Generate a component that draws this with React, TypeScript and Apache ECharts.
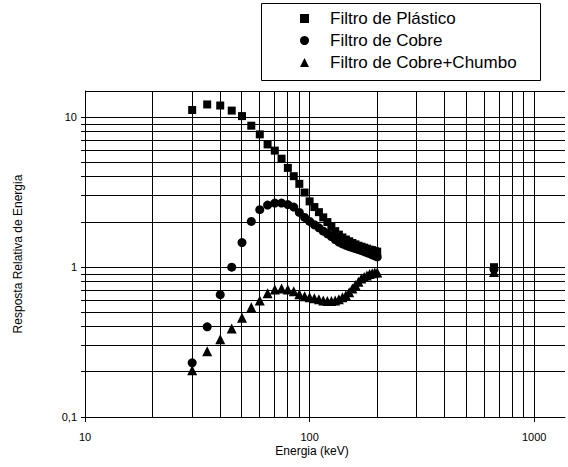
import React, { useEffect, useRef } from "react";
import * as echarts from "echarts";

const energies = [30, 35, 40, 45, 50, 55, 60, 65, 70, 75, 80, 85, 90, 95, 100, 105, 110, 115, 120, 125, 130, 135, 140, 145, 150, 155, 160, 165, 170, 175, 180, 185, 190, 195, 200, 662];
const plastico = [11.2, 12.2, 12.0, 11.1, 10.2, 8.8, 7.7, 6.6, 6.0, 5.3, 4.6, 4.05, 3.6, 3.15, 2.75, 2.52, 2.33, 2.15, 2.0, 1.86, 1.74, 1.65, 1.58, 1.53, 1.49, 1.45, 1.42, 1.39, 1.37, 1.35, 1.33, 1.31, 1.3, 1.28, 1.27, 1.0];
const cobre = [0.23, 0.4, 0.655, 1.0, 1.46, 2.02, 2.42, 2.6, 2.68, 2.68, 2.62, 2.52, 2.32, 2.15, 2.02, 1.92, 1.83, 1.74, 1.67, 1.6, 1.53, 1.47, 1.43, 1.4, 1.37, 1.35, 1.33, 1.31, 1.29, 1.27, 1.25, 1.23, 1.21, 1.19, 1.17, 0.97];
const cobreChumbo = [0.205, 0.275, 0.33, 0.39, 0.46, 0.54, 0.6, 0.67, 0.71, 0.72, 0.71, 0.69, 0.66, 0.64, 0.63, 0.62, 0.61, 0.6, 0.595, 0.595, 0.6, 0.61, 0.63, 0.65, 0.68, 0.72, 0.76, 0.8, 0.84, 0.86, 0.88, 0.9, 0.91, 0.92, 0.92, 0.93];
const seriesNames = ["Filtro de Plástico", "Filtro de Cobre", "Filtro de Cobre+Chumbo"];
const xMajor = [10, 100, 1000];
const xMinor = [20, 30, 40, 50, 60, 70, 80, 90, 200, 300, 400, 500, 600, 700, 800, 900];
const yMajor = [0.1, 1, 10];
const yMinor = [0.2, 0.3, 0.4, 0.5, 0.6, 0.7, 0.8, 0.9, 2, 3, 4, 5, 6, 7, 8, 9];
const X_MIN = 10;
const X_MAX = 1371;
const Y_MIN = 0.1;
const Y_MAX = 15;
const xTitle = "Energia (keV)";
const yTitle = "Resposta Relativa de Energia";

const FONT = '"Liberation Sans", Arial, Helvetica, sans-serif';

function logLabel(v: number): string {
  const l = Math.log10(v);
  const r = Math.round(l);
  if (Math.abs(l - r) > 1e-6) return "";
  const val = Math.pow(10, r);
  const s = r < 0 ? val.toFixed(-r) : String(val);
  return s.replace(".", ",");
}

export default function App() {
  const ref = useRef<HTMLDivElement>(null);
  useEffect(() => {
    if (!ref.current) return;
    const chart = echarts.init(ref.current, undefined, { renderer: "svg" });

    // grid line items: [x, y, kind]
    // kind 0: horizontal with outer tick, 1: vertical, 2: vertical with outer tick, 3: top frame
    const gridItems: number[][] = [];
    yMajor.forEach((v) => gridItems.push([X_MIN, v, 0]));
    yMinor.forEach((v) => gridItems.push([X_MIN, v, 0]));
    xMajor.forEach((v) => gridItems.push([v, Y_MIN, 2]));
    xMinor.forEach((v) => gridItems.push([v, Y_MIN, 1]));
    gridItems.push([X_MIN, Y_MAX, 3]);

    const crisp = (n: number) => Math.round(n - 0.5) + 0.5;

    const option: any = {
      animation: false,
      backgroundColor: "#fff",
      textStyle: { fontFamily: FONT, color: "#000" },
      grid: { left: 85, top: 91, right: 0, bottom: 50 },
      xAxis: {
        type: "log",
        logBase: 10,
        min: X_MIN,
        max: X_MAX,
        axisLine: { show: true, lineStyle: { color: "#000", width: 1 } },
        axisTick: { show: false },
        splitLine: { show: false },
        axisLabel: {
          formatter: logLabel,
          margin: 14,
          fontSize: 11,
          color: "#000",
          fontFamily: FONT,
        },
      },
      yAxis: {
        type: "log",
        logBase: 10,
        min: Y_MIN,
        max: Y_MAX,
        axisLine: { show: true, lineStyle: { color: "#000", width: 1 } },
        axisTick: { show: false },
        splitLine: { show: false },
        axisLabel: {
          formatter: logLabel,
          margin: 8,
          fontSize: 11,
          color: "#000",
          fontFamily: FONT,
        },
      },
      legend: {
        orient: "vertical",
        left: 300,
        top: 9,
        itemWidth: 9,
        itemHeight: 9,
        itemGap: 3,
        padding: 0,
        selectedMode: false,
        data: [
          { name: seriesNames[0], icon: "rect" },
          { name: seriesNames[1], icon: "circle" },
          { name: seriesNames[2], icon: "triangle" },
        ],
        itemStyle: { opacity: 1 },
        textStyle: {
          fontSize: 17,
          lineHeight: 19,
          fontFamily: FONT,
          color: "#000",
          padding: [0, 0, 0, 16],
        },
      },
      graphic: [
        {
          type: "rect",
          shape: { x: 261.5, y: 3.5, width: 279, height: 77 },
          style: { fill: "none", stroke: "#000", lineWidth: 1 },
          silent: true,
        },
        {
          type: "text",
          x: 18,
          y: 254,
          rotation: Math.PI / 2,
          style: {
            text: yTitle,
            fontSize: 12,
            fontFamily: FONT,
            fill: "#000",
            textAlign: "center",
            textVerticalAlign: "middle",
          },
        },
        {
          type: "text",
          x: 312,
          y: 451,
          style: {
            text: xTitle,
            fontSize: 12,
            fontFamily: FONT,
            fill: "#000",
            textAlign: "center",
            textVerticalAlign: "middle",
          },
        },
      ],
      series: [
        {
          type: "custom",
          name: "grid",
          silent: true,
          z: 1,
          encode: { x: 0, y: 1 },
          data: gridItems,
          renderItem: (params: any, api: any) => {
            const cs = params.coordSys;
            const kind = api.value(2);
            const p = api.coord([api.value(0), api.value(1)]);
            let shape;
            if (kind === 0 || kind === 3) {
              const y = crisp(p[1]);
              shape = { x1: cs.x - (kind === 0 ? 4 : 0), y1: y, x2: cs.x + cs.width, y2: y };
            } else {
              const x = crisp(p[0]);
              shape = { x1: x, y1: cs.y, x2: x, y2: cs.y + cs.height + (kind === 2 ? 5 : 0) };
            }
            return { type: "line", shape, style: { stroke: "#000", lineWidth: 1 } };
          },
        },
        {
          type: "scatter",
          name: seriesNames[0],
          symbol: "rect",
          symbolSize: 8,
          z: 3,
          itemStyle: { color: "#000", opacity: 1 },
          data: energies.map((e, i) => [e, plastico[i]]),
        },
        {
          type: "scatter",
          name: seriesNames[1],
          symbol: "circle",
          symbolSize: 9,
          z: 3,
          itemStyle: { color: "#000", opacity: 1 },
          data: energies.map((e, i) => [e, cobre[i]]),
        },
        {
          type: "scatter",
          name: seriesNames[2],
          symbol: "triangle",
          symbolSize: 10,
          z: 3,
          itemStyle: { color: "#000", opacity: 1 },
          data: energies.map((e, i) => [e, cobreChumbo[i]]),
        },
      ],
    };
    chart.setOption(option);
    return () => chart.dispose();
  }, []);

  return (
    <div
      ref={ref}
      style={{ position: "fixed", left: 0, top: 0, width: 568, height: 467, background: "#fff" }}
    />
  );
}
